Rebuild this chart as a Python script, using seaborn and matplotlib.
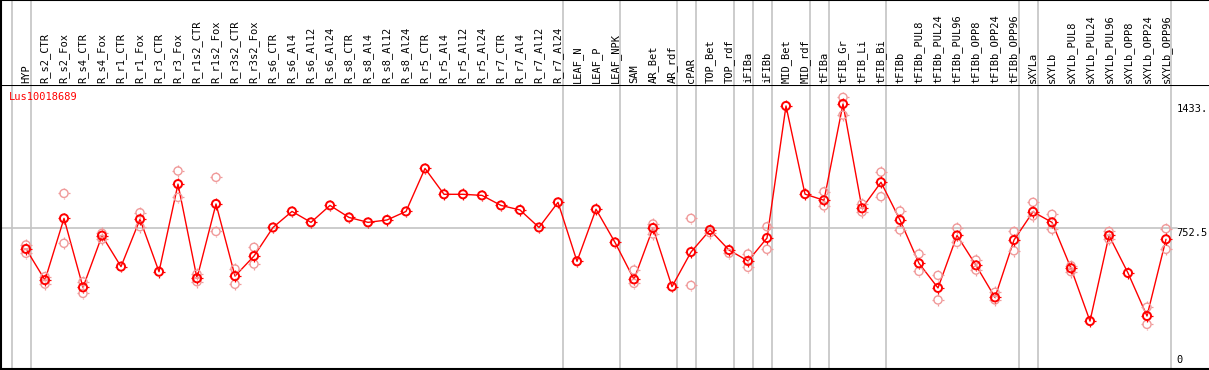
import numpy as np
import pandas as pd
import matplotlib
matplotlib.use("Agg")
import matplotlib.pyplot as plt
from matplotlib.path import Path
import seaborn as sns

# sample names, in plotting order
samples = [
    "HYP", "R_s2_CTR", "R_s2_Fox", "R_s4_CTR", "R_s4_Fox", "R_r1_CTR", "R_r1_Fox",
    "R_r3_CTR", "R_r3_Fox", "R_r1s2_CTR", "R_r1s2_Fox", "R_r3s2_CTR", "R_r3s2_Fox",
    "R_s6_CTR", "R_s6_Al4", "R_s6_Al12", "R_s6_Al24", "R_s8_CTR", "R_s8_Al4",
    "R_s8_Al12", "R_s8_Al24", "R_r5_CTR", "R_r5_Al4", "R_r5_Al12", "R_r5_Al24",
    "R_r7_CTR", "R_r7_Al4", "R_r7_Al12", "R_r7_Al24", "LEAF_N", "LEAF_P", "LEAF_NPK",
    "SAM", "AR_Bet", "AR_rdf", "cPAR", "TOP_Bet", "TOP_rdf", "iFIBa", "iFIBb",
    "MID_Bet", "MID_rdf", "tFIBa", "tFIB_Gr", "tFIB_Li", "tFIB_Bi", "tFIBb",
    "tFIBb_PUL8", "tFIBb_PUL24", "tFIBb_PUL96", "tFIBb_OPP8", "tFIBb_OPP24",
    "tFIBb_OPP96", "sXYLa", "sXYLb", "sXYLb_PUL8", "sXYLb_PUL24", "sXYLb_PUL96",
    "sXYLb_OPP8", "sXYLb_OPP24", "sXYLb_OPP96",
]

# mean expression per sample
mean_expr = [
    637, 466, 805, 426, 710, 540, 800, 512, 993, 476, 884, 488, 598,
    755, 843, 783, 876, 810, 783, 796, 843, 1079, 937, 937, 931,
    876, 851, 755, 893, 569, 855, 673, 470, 752, 430, 620, 741, 631, 571, 697,
    1422, 938, 904, 1433, 860, 1003, 796, 558, 423, 711, 547, 371, 686,
    841, 783, 531, 241, 711, 505, 269, 690,
]

nan = np.nan
# replicate values (upper / lower), nan where hidden behind the mean
rep_hi = [
    659, 485, 942, 457, 723, nan, 836, nan, 1065, 499, 1030, 527, 646,
    nan, nan, nan, nan, nan, nan, nan, nan, nan, nan, nan, nan,
    nan, nan, nan, nan, nan, nan, nan, 521, 774, nan, 805, nan, nan, 609, 759,
    nan, nan, 951, 1469, 884, 1059, 845, 609, 492, 752, 576, 399, 733,
    893, 827, 545, nan, 733, nan, 317, 748,
]
rep_lo = [
    613, 444, 668, 393, 690, nan, 759, nan, 920, 457, 733, 443, 554,
    nan, nan, nan, nan, nan, nan, nan, nan, nan, nan, nan, nan,
    nan, nan, nan, nan, nan, nan, nan, 448, 719, nan, 437, 726, 613, 536, 635,
    nan, nan, 873, 1372, 840, 924, 741, 514, 357, 673, 521, 357, 627,
    818, 745, 512, nan, 690, nan, 223, 635,
]

# group separators (between samples)
separators = [-0.75, 0.25, 28.25, 31.25, 34.25, 35.25, 37.25, 38.25, 39.25,
              41.25, 42.25, 45.25, 52.25, 53.25, 60.25]
y_labels = [1433, 752.5, 0]
y_label_text = ["1433.", "752.5", "0"]
gene = "Lus10018689"

pos = np.arange(len(samples))
df = pd.DataFrame({"pos": pos, "mean": mean_expr})
reps = pd.DataFrame({
    "pos": np.concatenate([pos, pos]),
    "value": np.concatenate([rep_hi, rep_lo]),
}).dropna()

sns.set_style("white")
plt.rcParams["font.family"] = ["DejaVu Sans Mono", "DejaVu Sans"]

W, H = 1209, 370
fig = plt.figure(figsize=(W / 100, H / 100), dpi=100)

# 19 px per sample, first sample at x=26 px
px = 19.0
xmin = -(26 - 1) / px
xmax = xmin + (W - 1) / px
head_h = 85

ax = fig.add_axes([1 / W, 1 / H, (W - 1) / W, (H - head_h - 1) / H])
hax = fig.add_axes([1 / W, (H - head_h) / H, (W - 1) / W, head_h / H])

gray = "#c4c4c4"
red = "#ff0000"
pink = "#f09a9a"

# little ticks sticking out of each circle
tick_mk = Path([(0, 0.72), (0, 1), (0, -0.72), (0, -1), (0.72, 0), (1, 0), (-0.72, 0), (-1, 0)],
               [Path.MOVETO, Path.LINETO] * 4)


def draw_points(data, y, color, lw):
    sns.scatterplot(data=data, x="pos", y=y, ax=ax, marker="o", s=34,
                    color=color, facecolor="none", edgecolor=color, linewidth=lw,
                    legend=False, zorder=4)
    sns.scatterplot(data=data, x="pos", y=y, ax=ax, marker=tick_mk, s=70,
                    color=color, facecolor="none", edgecolor=color, linewidth=0.9,
                    legend=False, zorder=4)


for s in separators:
    ax.axvline(s, color=gray, lw=1.2, zorder=0)
    hax.axvline(s, color=gray, lw=1.2, zorder=0)
ax.axhline(752.5, xmax=(1177 - 1) / (W - 1), color=gray, lw=1.2, zorder=0)

draw_points(reps, "value", pink, 1.0)
sns.lineplot(data=df, x="pos", y="mean", ax=ax, color=red, lw=1.0, zorder=3)
draw_points(df, "mean", red, 1.4)

ax.set_xlim(xmin, xmax)
ax.set_ylim(-22, 1537)
ax.set_xticks([])
ax.set_yticks([])
ax.set_xlabel("")
ax.set_ylabel("")
for side in ["left", "bottom", "top"]:
    ax.spines[side].set_color("black")
    ax.spines[side].set_linewidth(1.5)
ax.spines["right"].set_visible(False)

for v, t in zip(y_labels, y_label_text):
    ax.text(60.55, v, t, fontsize=7.5, color="black",
            va="bottom" if v == 0 else "top", ha="left")

ax.text(8 / (W - 1), 1 - 12 / (H - head_h - 1), gene, transform=ax.transAxes,
        color=red, fontsize=7.5, va="center", ha="left")

hax.set_xlim(xmin, xmax)
hax.set_ylim(0, head_h)
hax.set_xticks([])
hax.set_yticks([])
for side in ["left", "top"]:
    hax.spines[side].set_color("black")
    hax.spines[side].set_linewidth(1.5)
hax.spines["right"].set_visible(False)
hax.spines["bottom"].set_visible(False)
for i, name in enumerate(samples):
    hax.text(i, 2, name, rotation=90, ha="center", va="bottom",
             fontsize=7.5, color="black")

fig.savefig("out.png", dpi=100)
